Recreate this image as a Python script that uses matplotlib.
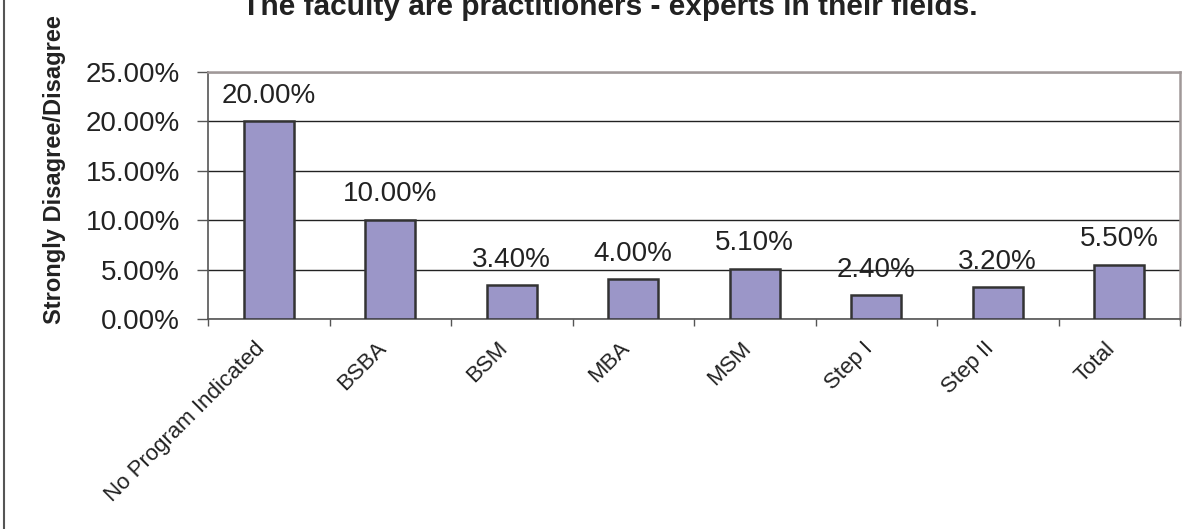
import matplotlib
matplotlib.use("Agg")
import matplotlib.pyplot as plt
import matplotlib.transforms as mtransforms
from matplotlib.lines import Line2D
from matplotlib.ticker import FixedLocator, NullFormatter

categories = ["No Program Indicated", "BSBA", "BSM", "MBA", "MSM", "Step I", "Step II", "Total"]
values = [20.0, 10.0, 3.4, 4.0, 5.1, 2.4, 3.2, 5.5]
labels = ["20.00%", "10.00%", "3.40%", "4.00%", "5.10%", "2.40%", "3.20%", "5.50%"]
yticks = [0, 5, 10, 15, 20, 25]
ytick_labels = ["0.00%", "5.00%", "10.00%", "15.00%", "20.00%", "25.00%"]
title = "The faculty are practitioners - experts in their fields."
ylabel = "Strongly Disagree/Disagree"

plt.rcParams['font.family'] = ['Liberation Sans', 'DejaVu Sans']
fig = plt.figure(figsize=(11.83, 5.29), dpi=100)
W, H = 1183, 529
left, right, top, bottom = 208, 1180, 72, 319
ax = fig.add_axes([left / W, 1 - bottom / H, (right - left) / W, (bottom - top) / H])

x = list(range(len(categories)))
ax.bar(x, values, width=0.41, color='#9b96c8', edgecolor='#333333', linewidth=1.8, zorder=3)
for xi, v, lab in zip(x, values, labels):
    ax.text(xi, v + 1.9, lab, ha='center', va='baseline', fontsize=20, color='#222222', zorder=4)

ax.set_xlim(-0.5, len(categories) - 0.5)
ax.set_ylim(0, 25)
ax.set_yticks(yticks)
ax.set_yticklabels(ytick_labels, fontsize=20, color='#222222')
ax.yaxis.grid(True, color='#222222', linewidth=1.0, zorder=0)
ax.set_axisbelow(True)

ax.xaxis.set_major_locator(FixedLocator([i - 0.5 for i in range(len(categories) + 1)]))
ax.xaxis.set_major_formatter(NullFormatter())
ax.xaxis.set_minor_locator(FixedLocator(x))
ax.set_xticklabels(categories, minor=True, rotation=45, ha='right', va='center',
                   rotation_mode='anchor', fontsize=16, color='#222222')
ax.tick_params(axis='x', which='minor', length=0, pad=19)
ax.tick_params(axis='x', which='major', length=5, width=1, color='#555555', direction='out')
ax.tick_params(axis='y', length=8, width=1, color='#555555', direction='out', pad=12)
offset = mtransforms.ScaledTranslation(-7 / 100, 0, fig.dpi_scale_trans)
for lbl in ax.xaxis.get_minorticklabels():
    lbl.set_transform(lbl.get_transform() + offset)

for s in ['left', 'bottom']:
    ax.spines[s].set_color('#555555')
    ax.spines[s].set_linewidth(1.2)
for s in ['top', 'right']:
    ax.spines[s].set_color('#a09898')
    ax.spines[s].set_linewidth(1.8)

fig.text(55 / W, 1 - 170 / H, ylabel, rotation=90, ha='center', va='center', fontsize=17, fontweight='bold', color='#222222')
fig.text(610 / W, 1 - 15 / H, title, ha='center', va='baseline', fontsize=21.5, fontweight='bold', color='#222222')

fig.add_artist(Line2D([3.5 / W, 3.5 / W], [0, 1], transform=fig.transFigure, color='#555555', linewidth=1.5))

fig.savefig("out.png", dpi=100)
